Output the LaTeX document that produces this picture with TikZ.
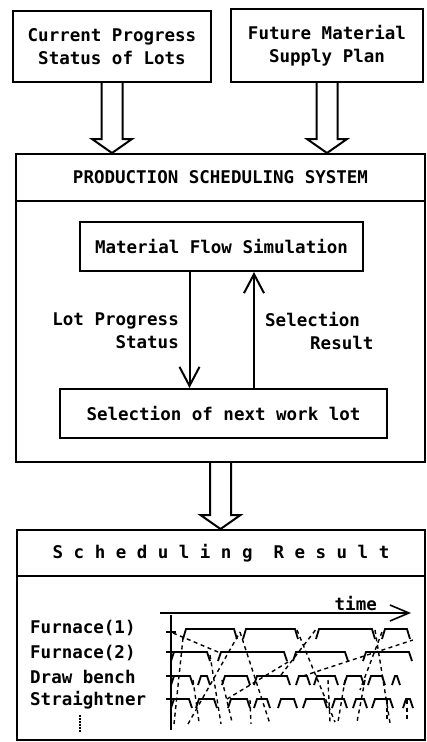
\documentclass[tikz,border=0pt]{standalone}
\usepackage{fontspec}
\setmainfont{DejaVu Sans Mono}
\newfontfamily\spacedfont[LetterSpace=60]{DejaVu Sans Mono}
\usetikzlibrary{positioning,arrows.meta}

\begin{document}
\begin{tikzpicture}[
  x=1pt, y=-1pt,
  font=\fontsize{17.5pt}{23pt}\selectfont\bfseries,
  box/.style={draw, line width=2pt, align=center, inner sep=0pt},
  arrow/.style={-{Straight Barb[length=19pt, width=20pt]}, line width=2pt},
  hollow/.style={draw, line width=2pt, to path={
      ([xshift=-10.5pt]\tikztostart) -- ([xshift=-10.5pt, yshift=14pt]\tikztotarget)
      -- ([xshift=-20pt, yshift=14pt]\tikztotarget) -- (\tikztotarget)
      -- ([xshift=20pt, yshift=14pt]\tikztotarget) -- ([xshift=10.5pt, yshift=14pt]\tikztotarget)
      -- ([xshift=10.5pt]\tikztostart)}},
  flowtext/.style={inner sep=0pt},
  job/.style={line width=1.8pt},
  flow/.style={line width=1.4pt, dash pattern=on 4pt off 3.5pt},
]
\useasboundingbox (0,0) rectangle (427,742);

% Inputs at the top.
\node[box, minimum width=198pt, minimum height=71pt] (cur) at (112,46.5) {Current Progress\\Status of Lots};
\node[box, minimum width=192pt, minimum height=73pt] (sup) at (327,45.5) {Future Material\\Supply Plan};

% The scheduling system with its two inner steps.
\node[box, minimum width=409pt, minimum height=308pt] (sys) at (220.5,308) {};
\node[box, minimum width=409pt, minimum height=47pt, anchor=north] (systitle) at (sys.north) {PRODUCTION SCHEDULING SYSTEM};
\node[box, minimum width=283pt, minimum height=49pt] (sim) at (221.5,246.5) {Material Flow Simulation};
\node[box, minimum width=327pt, minimum height=49pt] (sel) at (223.5,413.5) {Selection of next work lot};

\draw[arrow] ([xshift=-32pt]sim.south) -- ([xshift=-32pt]sim.south |- sel.north);
\draw[arrow] ([xshift=32.5pt]sim.south |- sel.north) -- ([xshift=32.5pt]sim.south);
\node[flowtext, align=right, anchor=east] (lps) at (179,331) {Lot Progress\\Status};
\node[flowtext, align=left, anchor=west] (selres) at (265,331) {Selection\\\hspace*{45pt}Result};

% Output box.
\node[box, minimum width=408pt, minimum height=210pt] (res) at (221,635) {};
\node[box, minimum width=408pt, minimum height=46pt, anchor=north] (restitle) at (res.north) {\spacedfont\bfseries Scheduling\ Result};

% Hollow arrows between the boxes.
\coordinate (in1) at (cur.south |- sys.north);
\coordinate (in2) at (sup.south |- sys.north);
\coordinate (out) at (sys.south |- res.north);
\draw[hollow] (cur.south) to (in1);
\draw[hollow] (sup.south) to (in2);
\draw[hollow] (sys.south) to (out);

% Gantt-like chart.
\coordinate (t0) at (160,613);
\coordinate (t1) at (411,613);
\draw[line width=1.6pt, -{Straight Barb[length=19pt, width=16pt]}] (t0) -- (t1)
  node[pos=0.78, above, inner sep=1pt] (tlab) {time};
\draw[line width=1.8pt] (171,615) -- (171,730);
\foreach \name/\y [count=\i] in {Furnace(1)/628, Furnace(2)/653, Draw bench/677, Straightner/700} {
  \node[flowtext, anchor=west] (row\i) at (30,\y) {\name};
}
\foreach \y in {632,652,676,699}
  \draw[line width=1.6pt] (166,\y) -- (176,\y);
\draw[line width=1.8pt, dash pattern=on 1.5pt off 1.5pt] (80,715) -- (80,733);

\foreach \a/\b in {183/237, 243/298, 316/375, 382/410}
  \draw[job] (\a,639) -- (\a+3,629) -- (\b-3,629) -- (\b,639);
\foreach \a/\b in {171/210, 218/287, 293/348, 363/412}
  \draw[job] (\a,661) -- (\a+3,652) -- (\b-3,652) -- (\b,661);
\foreach \a/\b in {171/193, 198/210, 222/250, 254/290, 296/310, 314/338, 344/364, 368/385, 392/400}
  \draw[job] (\a,685) -- (\a+3,676) -- (\b-3,676) -- (\b,685);
\foreach \a/\b in {171/192, 196/217, 228/250, 254/270, 278/297, 303/327, 332/347, 353/367, 372/393, 403/413}
  \draw[job] (\a,708) -- (\a+3,699) -- (\b-3,699) -- (\b,708);

\foreach \a/\b/\c/\d in {173/633/218/652, 183/638/174/724, 188/724/240/632, 240/632/270/724,
    210/655/221/724, 193/680/199/722, 227/699/288/662, 250/700/251/724, 297/630/335/722,
    281/675/317/628, 303/676/413/640, 375/630/390/723, 382/632/360/690, 328/680/330/722,
    345/680/338/722, 365/680/357/722, 387/700/387/722, 407/700/407/722, 222/680/232/722}
  \draw[flow] (\a,\b) -- (\c,\d);

\end{tikzpicture}
\end{document}
